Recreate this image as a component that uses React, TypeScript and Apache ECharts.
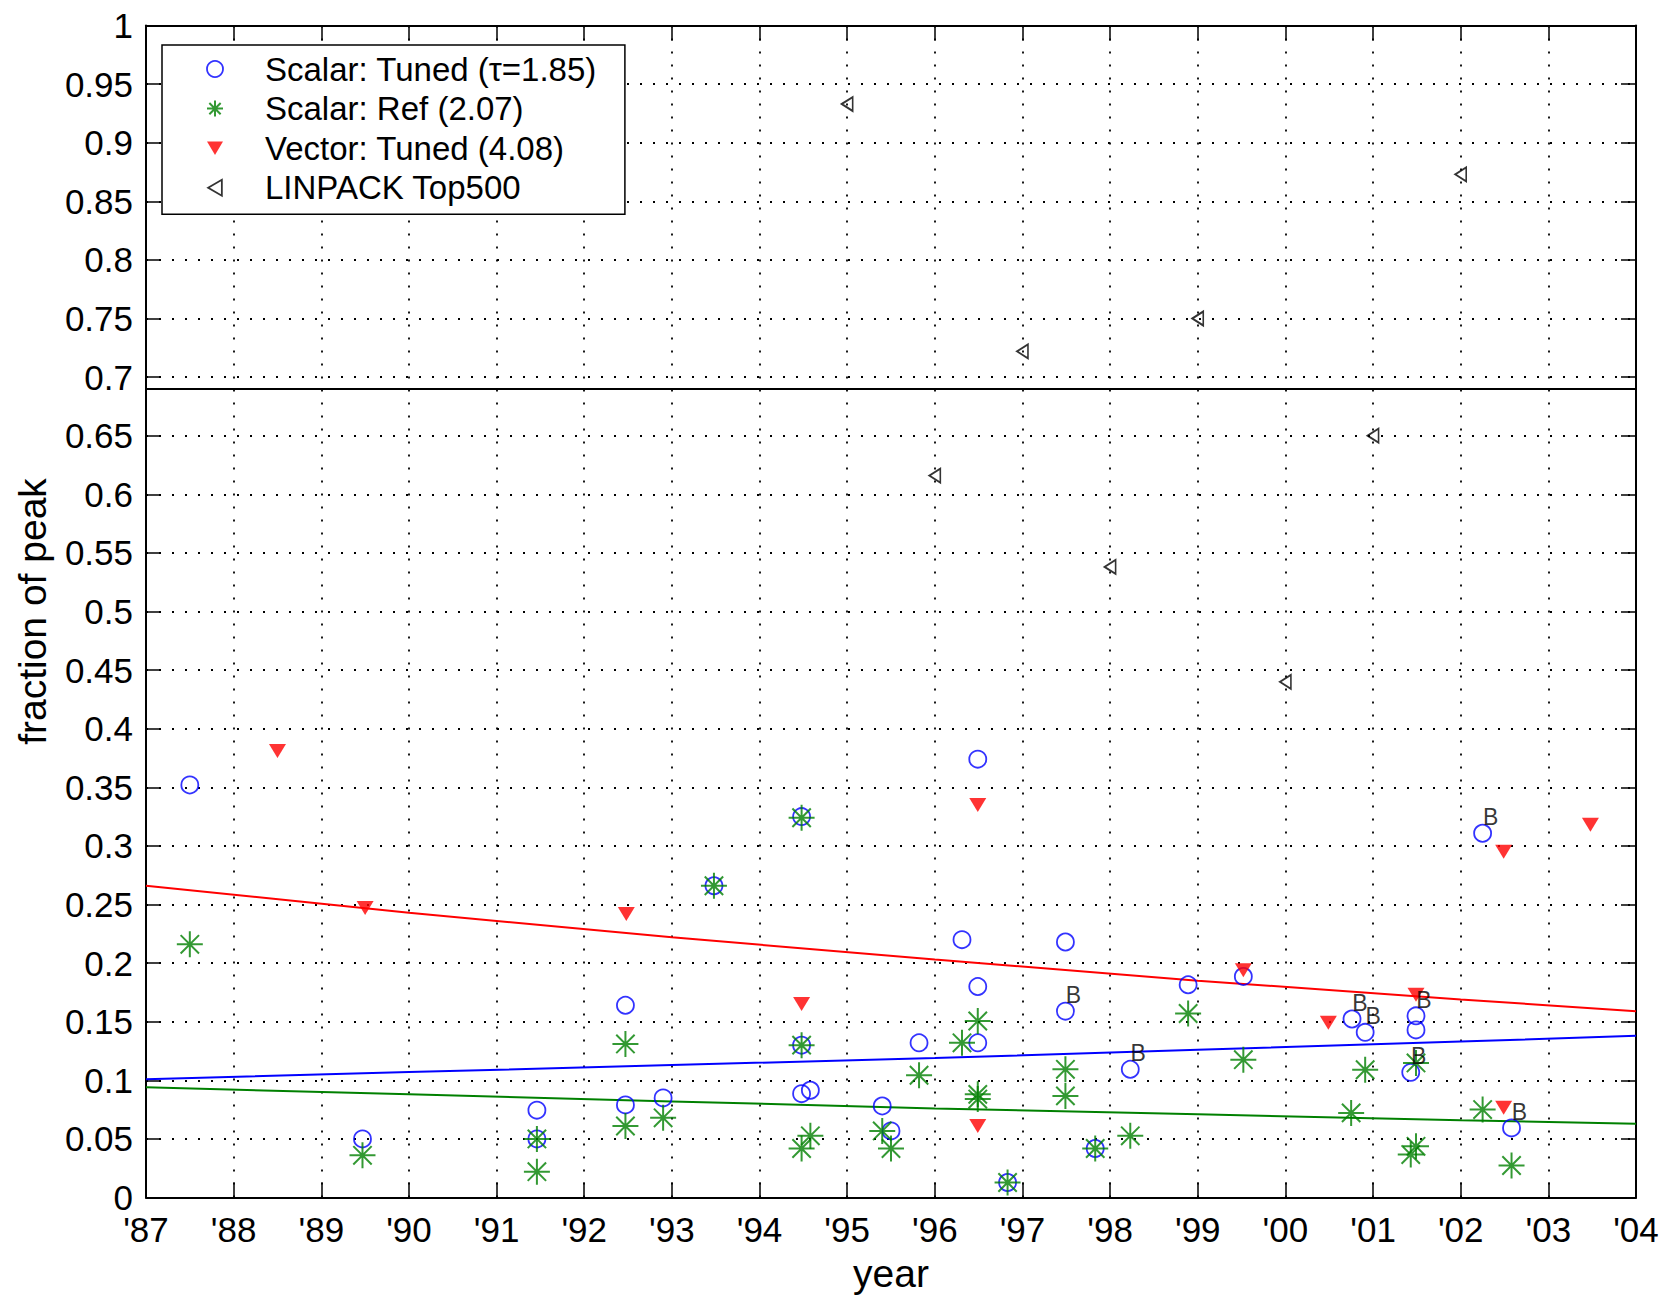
import React, { useEffect, useRef } from "react";
import * as echarts from "echarts";

// ---- data ----
const xTickLabels = ["'87", "'88", "'89", "'90", "'91", "'92", "'93", "'94", "'95", "'96", "'97", "'98", "'99", "'00", "'01", "'02", "'03", "'04"];

const scalarTuned: [number, number][] = [
  [1987.5, 0.352], [1989.47, 0.05], [1991.46, 0.0745], [1991.46, 0.05],
  [1992.47, 0.164], [1992.47, 0.079], [1992.9, 0.085], [1993.48, 0.266],
  [1994.48, 0.325], [1994.48, 0.13], [1994.48, 0.0886], [1994.58, 0.0915],
  [1995.4, 0.0781], [1995.5, 0.0568], [1995.82, 0.132], [1996.31, 0.22],
  [1996.49, 0.374], [1996.49, 0.18], [1996.49, 0.132], [1996.83, 0.0128],
  [1997.49, 0.218], [1997.49, 0.159], [1997.83, 0.0418], [1998.23, 0.1094],
  [1998.89, 0.1815], [1999.52, 0.1886], [2000.76, 0.1523], [2000.91, 0.1409],
  [2001.49, 0.155], [2001.49, 0.143], [2001.43, 0.1068], [2002.25, 0.3108],
  [2002.58, 0.0594],
];

const scalarRef: [number, number][] = [
  [1987.5, 0.216], [1989.47, 0.036], [1991.46, 0.05], [1991.46, 0.022],
  [1992.47, 0.131], [1992.47, 0.061], [1992.9, 0.068], [1993.48, 0.266],
  [1994.48, 0.324], [1994.48, 0.13], [1994.48, 0.0418], [1994.58, 0.0526],
  [1995.4, 0.0568], [1995.5, 0.0418], [1995.82, 0.1043], [1996.31, 0.132],
  [1996.49, 0.1506], [1996.49, 0.088], [1996.49, 0.084], [1996.83, 0.0128],
  [1997.49, 0.1094], [1997.49, 0.0867], [1997.83, 0.0418], [1998.23, 0.0526],
  [1998.89, 0.157], [1999.52, 0.1176], [2000.75, 0.0722], [2000.91, 0.109],
  [2001.49, 0.1148], [2001.43, 0.0366], [2001.49, 0.0437], [2002.25, 0.075],
  [2002.58, 0.0273],
];

const vectorTuned: [number, number][] = [
  [1988.5, 0.381], [1989.5, 0.247], [1992.48, 0.242], [1994.48, 0.165],
  [1996.49, 0.335], [1996.49, 0.061], [1999.52, 0.194], [2000.49, 0.149],
  [2001.49, 0.173], [2002.49, 0.295], [2002.49, 0.0765], [2003.48, 0.318],
];

const linpack: [number, number][] = [
  [1995, 0.933], [1996, 0.616], [1997, 0.722], [1998, 0.538],
  [1999, 0.75], [2000, 0.44], [2001, 0.65], [2002, 0.873],
];

const bLabels: [number, number][] = [
  [1997.49, 0.159], [1998.23, 0.1094], [2000.76, 0.1523], [2000.91, 0.1409],
  [2001.49, 0.155], [2001.43, 0.1068], [2002.25, 0.3108], [2002.58, 0.0594],
];

const fitTuned: [number, number][] = [
  [1987, 0.101], [1990, 0.107], [1993, 0.113], [1996, 0.119], [1999, 0.126], [2002, 0.133], [2004, 0.138],
];
const fitRef: [number, number][] = [
  [1987, 0.094], [1990, 0.088], [1993, 0.082], [1996, 0.076], [1999, 0.071], [2002, 0.066], [2004, 0.063],
];
const fitVector: [number, number][] = [
  [1987, 0.266], [1990, 0.243], [1993, 0.222], [1996, 0.203], [1999, 0.185], [2002, 0.169], [2004, 0.159],
];

const separatorValue = 0.686;

const seriesNames = ["Scalar: Tuned (τ=1.85)", "Scalar: Ref (2.07)", "Vector: Tuned (4.08)", "LINPACK Top500"];

const starPath = "path://M0,-10L0,10M-10,0L10,0M-7.07,-7.07L7.07,7.07M-7.07,7.07L7.07,-7.07";
const downTriPath = "path://M0,0L20,0L10,17Z";
const leftTriPath = "path://M0,7L12,0L12,14Z";

export default function App() {
  const ref = useRef<HTMLDivElement>(null);
  useEffect(() => {
    const chart = echarts.init(ref.current!, null, { renderer: "svg" });
    const font = "'Liberation Sans', Arial, Helvetica, sans-serif";
    const axisLine = { show: true, onZero: false, lineStyle: { color: "#000", width: 2 } };
    const axisTick = { show: true, inside: true, length: 15, lineStyle: { color: "#000", width: 1.5 } };
    const dotted = { show: true, lineStyle: { color: "#000", width: 1.8, type: [2, 11] as any } };
    const labelStyle = { color: "#000", fontSize: 35, fontFamily: font };
    const nameStyle = { color: "#000", fontSize: 39, fontFamily: font };

    const blueStyle = { color: "transparent", borderColor: "#0000ff", borderWidth: 1.8 };
    const greenStyle = { color: "transparent", borderColor: "#008000", borderWidth: 2 };
    const redStyle = { color: "#ff0000" };
    const blackStyle = { color: "transparent", borderColor: "#000", borderWidth: 1.8 };

    chart.setOption({
      animation: false,
      backgroundColor: "#fff",
      grid: { left: 146, right: 39, top: 25.5, bottom: 98.5, containLabel: false, outerBoundsMode: "none" },
      xAxis: [
        {
          type: "value", min: 1987, max: 2004, interval: 1, position: "bottom",
          axisLine, axisTick,
          axisLabel: { ...labelStyle, margin: 14, formatter: (v: number) => xTickLabels[Math.round(v) - 1987] ?? "" },
          splitLine: dotted,
          name: "year", nameLocation: "middle", nameGap: 56,
          nameTextStyle: { ...nameStyle },
        },
        {
          type: "value", min: 1987, max: 2004, interval: 1, position: "top",
          axisLine, axisTick, axisLabel: { show: false }, splitLine: { show: false },
        },
      ],
      yAxis: [
        {
          type: "value", min: 0, max: 1, interval: 0.05, position: "left",
          axisLine, axisTick,
          axisLabel: { ...labelStyle, margin: 13, formatter: (v: number) => String(Math.round(v * 100) / 100) },
          splitLine: dotted,
          name: "fraction of peak", nameLocation: "middle", nameGap: 94,
          nameTextStyle: { ...nameStyle },
        },
        {
          type: "value", min: 0, max: 1, interval: 0.05, position: "right",
          axisLine, axisTick, axisLabel: { show: false }, splitLine: { show: false },
        },
      ],
      legend: {
        orient: "vertical",
        left: 162,
        top: 45,
        padding: [7.5, 28, 10, 44],
        itemGap: 6.6,
        itemWidth: 16,
        itemHeight: 16,
        backgroundColor: "#fff",
        borderColor: "#000",
        borderWidth: 1.5,
        borderRadius: 0,
        selectedMode: false,
        textStyle: { fontSize: 33, fontFamily: font, color: "#000", lineHeight: 33, padding: [0, 0, 0, 37] },
        data: [
          { name: seriesNames[0], icon: "circle", itemStyle: blueStyle },
          { name: seriesNames[1], icon: starPath, itemStyle: greenStyle },
          { name: seriesNames[2], icon: downTriPath, itemStyle: redStyle },
          { name: seriesNames[3], icon: leftTriPath, itemStyle: blackStyle },
        ],
      },
      series: [
        {
          type: "line", name: "fitVector", data: fitVector, showSymbol: false, silent: true,
          lineStyle: { color: "#ff0000", width: 2 }, z: 1,
        },
        {
          type: "line", name: "fitTuned", data: fitTuned, showSymbol: false, silent: true,
          lineStyle: { color: "#0000ff", width: 2 }, z: 1,
        },
        {
          type: "line", name: "fitRef", data: fitRef, showSymbol: false, silent: true,
          lineStyle: { color: "#008000", width: 2 }, z: 1,
        },
        {
          type: "scatter", name: seriesNames[0], data: scalarTuned,
          symbol: "circle", symbolSize: 17, itemStyle: blueStyle, z: 2,
        },
        {
          type: "scatter", name: seriesNames[1], data: scalarRef,
          symbol: starPath, symbolSize: 26, itemStyle: greenStyle, z: 3,
        },
        {
          type: "scatter", name: seriesNames[2], data: vectorTuned,
          symbol: downTriPath, symbolSize: [17, 14], itemStyle: redStyle, z: 4,
        },
        {
          type: "scatter", name: seriesNames[3], data: linpack,
          symbol: leftTriPath, symbolSize: [11, 14], itemStyle: blackStyle, z: 4,
          markLine: {
            silent: true, symbol: ["none", "none"], label: { show: false },
            lineStyle: { color: "#000", width: 2, type: "solid" },
            data: [{ yAxis: separatorValue }],
          },
        },
        {
          type: "scatter", name: "B", data: bLabels, symbol: "circle", symbolSize: 1,
          itemStyle: { color: "transparent" }, silent: true, z: 5,
          label: {
            show: true, formatter: "B", position: "inside", offset: [8, -16],
            color: "#000", fontSize: 23, fontFamily: font,
          },
        },
      ],
    });
    return () => chart.dispose();
  }, []);
  return (
    <div
      ref={ref}
      style={{ position: "absolute", left: 0, top: 0, width: 1675, height: 1296 }}
    />
  );
}
